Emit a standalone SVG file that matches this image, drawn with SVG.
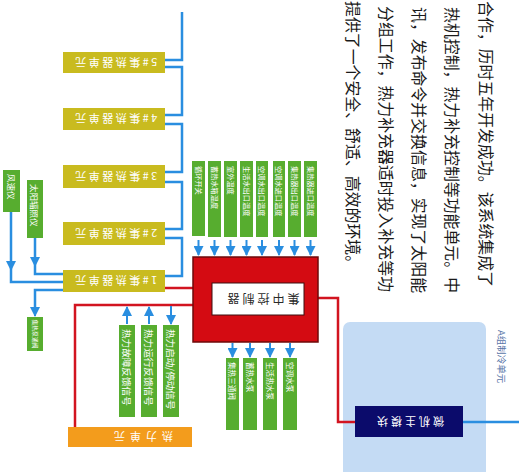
<svg xmlns="http://www.w3.org/2000/svg" width="519" height="472" viewBox="0 0 519 472">
<defs>
<marker id="ab" viewBox="0 0 10 10" refX="9" refY="5" markerWidth="5" markerHeight="5" orient="auto">
<path d="M0,0 L10,5 L0,10 z" fill="#2a8ee0"/>
</marker>
<style>
.t{font-family:"Noto Sans CJK SC","Liberation Sans",sans-serif;}
.col{fill:#c9bb1f;}
.grn{fill:#57ad2f;}
.bl{fill:none;stroke:#2a8ee0;stroke-width:2.5;}
.ba{fill:none;stroke:#2a8ee0;stroke-width:2;marker-end:url(#ab);}
.rd{fill:none;stroke:#d21420;stroke-width:2.5;}
.wl{fill:#fff;}
.para{font-size:15.9px;fill:#1a1a1a;dominant-baseline:central;}
</style>
</defs>
<rect width="519" height="472" fill="#fff"/>

<!-- paragraph -->
<g class="t para">
<text transform="translate(486,1) rotate(90)">合作，历时五年开发成功。该系统集成了</text>
<text transform="translate(452,7) rotate(90)">热机控制，热力补充控制等功能单元。中</text>
<text transform="translate(419,7) rotate(90)">讯，发布命令并交换信息，实现了太阳能</text>
<text transform="translate(386,6) rotate(90)">分组工作，热力补充器适时投入补充等功</text>
<text transform="translate(353,1) rotate(90)">提供了一个安全、舒适、高效的环境。</text>
</g>

<!-- refrigeration panel -->
<g id="panelA">
<rect x="343" y="322" width="143" height="165" rx="7" fill="#c4dbf4"/>
<text class="t" transform="translate(502,330) rotate(90)" font-size="9.5" fill="#5a76a8" dominant-baseline="central">A组制冷单元</text>
</g>

<!-- connectors -->
<g id="connectors">
<path class="bl" d="M182,12 V60 H165"/>
<path class="bl" d="M165,67 H182 V115 H165"/>
<path class="bl" d="M165,124 H182 V172 H165"/>
<path class="bl" d="M165,182 H182 V229 H165"/>
<path class="bl" d="M165,238 H182 V276 H165"/>
<path class="bl" d="M11,212 V282 H63"/>
<path class="bl" d="M35,238 V274 H63"/>
<path class="bl" d="M63,290 H35 V312"/>
<path class="ba" d="M11,262 V270"/>
<path class="ba" d="M35,258 V266"/>
<path class="ba" d="M35,306 V316"/>
<path class="rd" d="M165,288 H194"/>
<path class="rd" d="M194,305 H75 V428"/>
<path class="rd" d="M317,298 H338 V422 H356"/>
<path class="bl" d="M463,422 H519"/>
<path class="ba" d="M198.5,240 V255"/>
<path class="ba" d="M214.5,240 V255"/>
<path class="ba" d="M230.5,240 V255"/>
<path class="ba" d="M246.5,240 V255"/>
<path class="ba" d="M262,240 V255"/>
<path class="ba" d="M279,240 V255"/>
<path class="ba" d="M294.5,240 V255"/>
<path class="ba" d="M310.5,240 V255"/>
<path class="ba" d="M127,324 V307"/>
<path class="ba" d="M149,324 V307"/>
<path class="ba" d="M171,306 V324"/>
<path class="ba" d="M232.5,343 V357"/>
<path class="ba" d="M250,343 V357"/>
<path class="ba" d="M270,343 V357"/>
<path class="ba" d="M290,343 V357"/>
</g>

<!-- collector units -->
<g id="c5"><rect class="col" x="63" y="52" width="102" height="21"/><text class="t wl" transform="translate(115,62.5) rotate(180)" font-size="11" letter-spacing="2.5" text-anchor="middle" dominant-baseline="central">5#集热器单元</text></g>
<g id="c4"><rect class="col" x="63" y="108" width="102" height="22"/><text class="t wl" transform="translate(115,119) rotate(180)" font-size="11" letter-spacing="2.5" text-anchor="middle" dominant-baseline="central">4#集热器单元</text></g>
<g id="c3"><rect class="col" x="63" y="165" width="102" height="23"/><text class="t wl" transform="translate(115,176.5) rotate(180)" font-size="11" letter-spacing="2.5" text-anchor="middle" dominant-baseline="central">3#集热器单元</text></g>
<g id="c2"><rect class="col" x="63" y="222" width="102" height="23"/><text class="t wl" transform="translate(115,233.5) rotate(180)" font-size="11" letter-spacing="2.5" text-anchor="middle" dominant-baseline="central">2#集热器单元</text></g>
<g id="c1"><rect class="col" x="63" y="270" width="102" height="22"/><text class="t wl" transform="translate(115,281) rotate(180)" font-size="11" letter-spacing="2.5" text-anchor="middle" dominant-baseline="central">1#集热器单元</text></g>

<!-- left sensors -->
<g id="wind"><rect class="grn" x="3" y="170" width="17" height="42"/><text class="t wl" transform="translate(11.5,174) rotate(90)" font-size="8.5" dominant-baseline="central">风速仪</text></g>
<g id="solar"><rect class="grn" x="27" y="180" width="16" height="58"/><text class="t wl" transform="translate(35,184) rotate(90)" font-size="8.5" dominant-baseline="central">太阳辐照仪</text></g>
<g id="valve1"><rect class="grn" x="27" y="317" width="16" height="34"/><text class="t wl" transform="translate(35,319.5) rotate(90)" font-size="5.8" dominant-baseline="central">集热泵通阀</text></g>

<!-- top sensor inputs -->
<g id="s1"><rect class="grn" x="192" y="161" width="13" height="75"/><text class="t wl" transform="translate(198.5,166) rotate(90)" font-size="7.2" dominant-baseline="central">循环开关</text></g>
<g id="s2"><rect class="grn" x="208" y="161" width="13" height="76"/><text class="t wl" transform="translate(214.5,166) rotate(90)" font-size="7.2" dominant-baseline="central">蓄热水箱温度</text></g>
<g id="s3"><rect class="grn" x="224" y="161" width="13" height="76"/><text class="t wl" transform="translate(230.5,166) rotate(90)" font-size="7.2" dominant-baseline="central">室外温度</text></g>
<g id="s4"><rect class="grn" x="240" y="161" width="13" height="76"/><text class="t wl" transform="translate(246.5,166) rotate(90)" font-size="7.2" dominant-baseline="central">生活水出口温度</text></g>
<g id="s5"><rect class="grn" x="256" y="161" width="12" height="76"/><text class="t wl" transform="translate(262,166) rotate(90)" font-size="7.2" dominant-baseline="central">空调水出口温度</text></g>
<g id="s6"><rect class="grn" x="273" y="161" width="12" height="76"/><text class="t wl" transform="translate(279,166) rotate(90)" font-size="7.2" dominant-baseline="central">空调水进口温度</text></g>
<g id="s7"><rect class="grn" x="288" y="161" width="13" height="76"/><text class="t wl" transform="translate(294.5,166) rotate(90)" font-size="7.2" dominant-baseline="central">集热器出口温度</text></g>
<g id="s8"><rect class="grn" x="304" y="161" width="13" height="76"/><text class="t wl" transform="translate(310.5,166) rotate(90)" font-size="7.2" dominant-baseline="central">集热器进口温度</text></g>

<!-- controller -->
<g id="controller">
<rect x="193" y="257" width="125" height="85" fill="#d40b12" stroke="#6e0a0a" stroke-width="1.5"/>
<rect x="212" y="283" width="92" height="32" fill="#fff" stroke="#3a1010" stroke-width="1"/>
<text class="t" transform="translate(262,299) rotate(180)" font-size="12" letter-spacing="3" fill="#2a2a2a" text-anchor="middle" dominant-baseline="central">集中控制器</text>
</g>

<!-- signals -->
<g id="sig1"><rect class="grn" x="119" y="325" width="16" height="92"/><text class="t wl" transform="translate(127,329) rotate(90)" font-size="9.6" dominant-baseline="central">热力故障反馈信号</text></g>
<g id="sig2"><rect class="grn" x="141" y="325" width="16" height="92"/><text class="t wl" transform="translate(149,329) rotate(90)" font-size="9.6" dominant-baseline="central">热力运行反馈信号</text></g>
<g id="sig3"><rect class="grn" x="163" y="325" width="16" height="92"/><text class="t wl" transform="translate(171,329) rotate(90)" font-size="9.6" dominant-baseline="central">热力启动/停动信号</text></g>

<!-- outputs -->
<g id="o1"><rect class="grn" x="226" y="358" width="13" height="72"/><text class="t wl" transform="translate(232.5,362) rotate(90)" font-size="7.6" dominant-baseline="central">集热三通阀</text></g>
<g id="o2"><rect class="grn" x="243" y="358" width="14" height="72"/><text class="t wl" transform="translate(250,362) rotate(90)" font-size="7.6" dominant-baseline="central">蓄热水泵</text></g>
<g id="o3"><rect class="grn" x="263" y="358" width="14" height="72"/><text class="t wl" transform="translate(270,362) rotate(90)" font-size="7.6" dominant-baseline="central">生活热水泵</text></g>
<g id="o4"><rect class="grn" x="283" y="358" width="14" height="72"/><text class="t wl" transform="translate(290,362) rotate(90)" font-size="7.6" dominant-baseline="central">空调水泵</text></g>

<!-- heat unit -->
<g id="heat"><rect x="68" y="427" width="124" height="20" fill="#f39c1c"/><text class="t wl" transform="translate(141,437) rotate(180)" font-size="11" letter-spacing="5" text-anchor="middle" dominant-baseline="central">热力单元</text></g>

<!-- main module -->
<g id="mcu"><rect x="355" y="406" width="108" height="31" fill="#0b0b6b"/><text class="t wl" transform="translate(409,421.5) rotate(180)" font-size="11" letter-spacing="3" text-anchor="middle" dominant-baseline="central">微机主模块</text></g>
</svg>
